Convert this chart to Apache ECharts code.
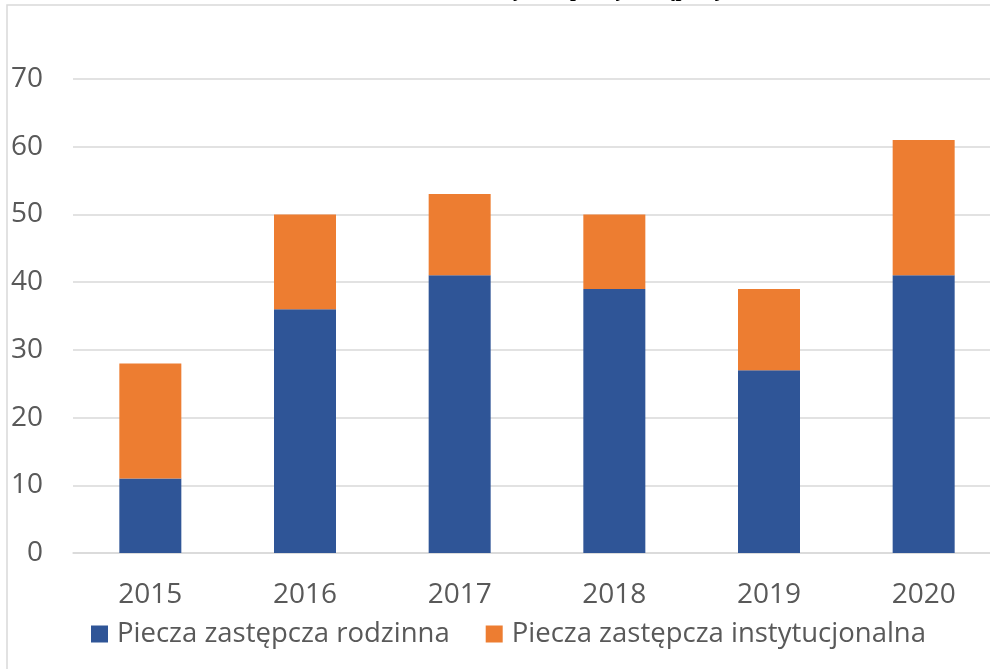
<!DOCTYPE html>
<html>
<head>
<meta charset="utf-8">
<title>Piecza zastępcza</title>
<script src="https://cdn.jsdelivr.net/npm/echarts@6.0.0/dist/echarts.min.js"></script>
<style>
  html, body { margin: 0; padding: 0; background: #fff; }
  #chart { width: 990px; height: 669px; }
</style>
</head>
<body>
<div id="chart"></div>
<script>
// dane
var lata = ['2015', '2016', '2017', '2018', '2019', '2020'];
var rodzinna = [11, 36, 41, 39, 27, 41];
var instytucjonalna = [17, 14, 12, 11, 12, 20];
var nazwy = ['Piecza zastępcza rodzinna', 'Piecza zastępcza instytucjonalna'];
var tytul = 'Liczba dzieci umieszczonych w pieczy zastępczej';

var font = 'Open Sans';
var szary = '#595959';
var linia = '#d9d9d9';

var chart = echarts.init(document.getElementById('chart'));

var option = {
  backgroundColor: '#fff',
  animation: false,
  // tytul jest uciety u gory, widac tylko ogonki liter
  graphic: [
    {
      type: 'rect',
      shape: { x: 7, y: 5, width: 1200, height: 1000 },
      style: { fill: 'none', stroke: linia, lineWidth: 1.5 },
      silent: true
    },
    {
      type: 'text',
      x: 505,
      y: 1,
      style: {
        text: tytul,
        align: 'center',
        verticalAlign: 'bottom',
        font: 'bold 21px "Liberation Serif", serif',
        fill: '#000'
      },
      silent: true
    }
  ],
  legend: {
    data: nazwy,
    left: 91,
    top: 620,
    padding: 0,
    itemWidth: 17,
    itemHeight: 17,
    itemGap: 36,
    icon: 'rect',
    textStyle: { fontFamily: font, fontSize: 27.5, color: szary, padding: [0, 0, 0, 4] }
  },
  grid: {
    left: 73,
    right: -11,
    top: 79,
    bottom: 116,
    containLabel: false,
    outerBoundsMode: 'none'
  },
  xAxis: {
    type: 'category',
    data: lata,
    axisTick: { show: false },
    axisLine: { lineStyle: { color: linia, width: 1.5 } },
    axisLabel: { fontFamily: font, fontSize: 28, color: szary, margin: 28 }
  },
  yAxis: {
    type: 'value',
    min: 0,
    max: 70,
    interval: 10,
    axisLine: { show: false },
    axisTick: { show: false },
    splitLine: { lineStyle: { color: linia, width: 1.5 } },
    axisLabel: { fontFamily: font, fontSize: 28, color: szary, margin: 30 }
  },
  series: [
    {
      name: nazwy[0],
      type: 'bar',
      stack: 'razem',
      barWidth: 62,
      data: rodzinna,
      itemStyle: { color: '#2f5597' }
    },
    {
      name: nazwy[1],
      type: 'bar',
      stack: 'razem',
      barWidth: 62,
      data: instytucjonalna,
      itemStyle: { color: '#ed7d31' }
    }
  ]
};

chart.setOption(option);
</script>
</body>
</html>
